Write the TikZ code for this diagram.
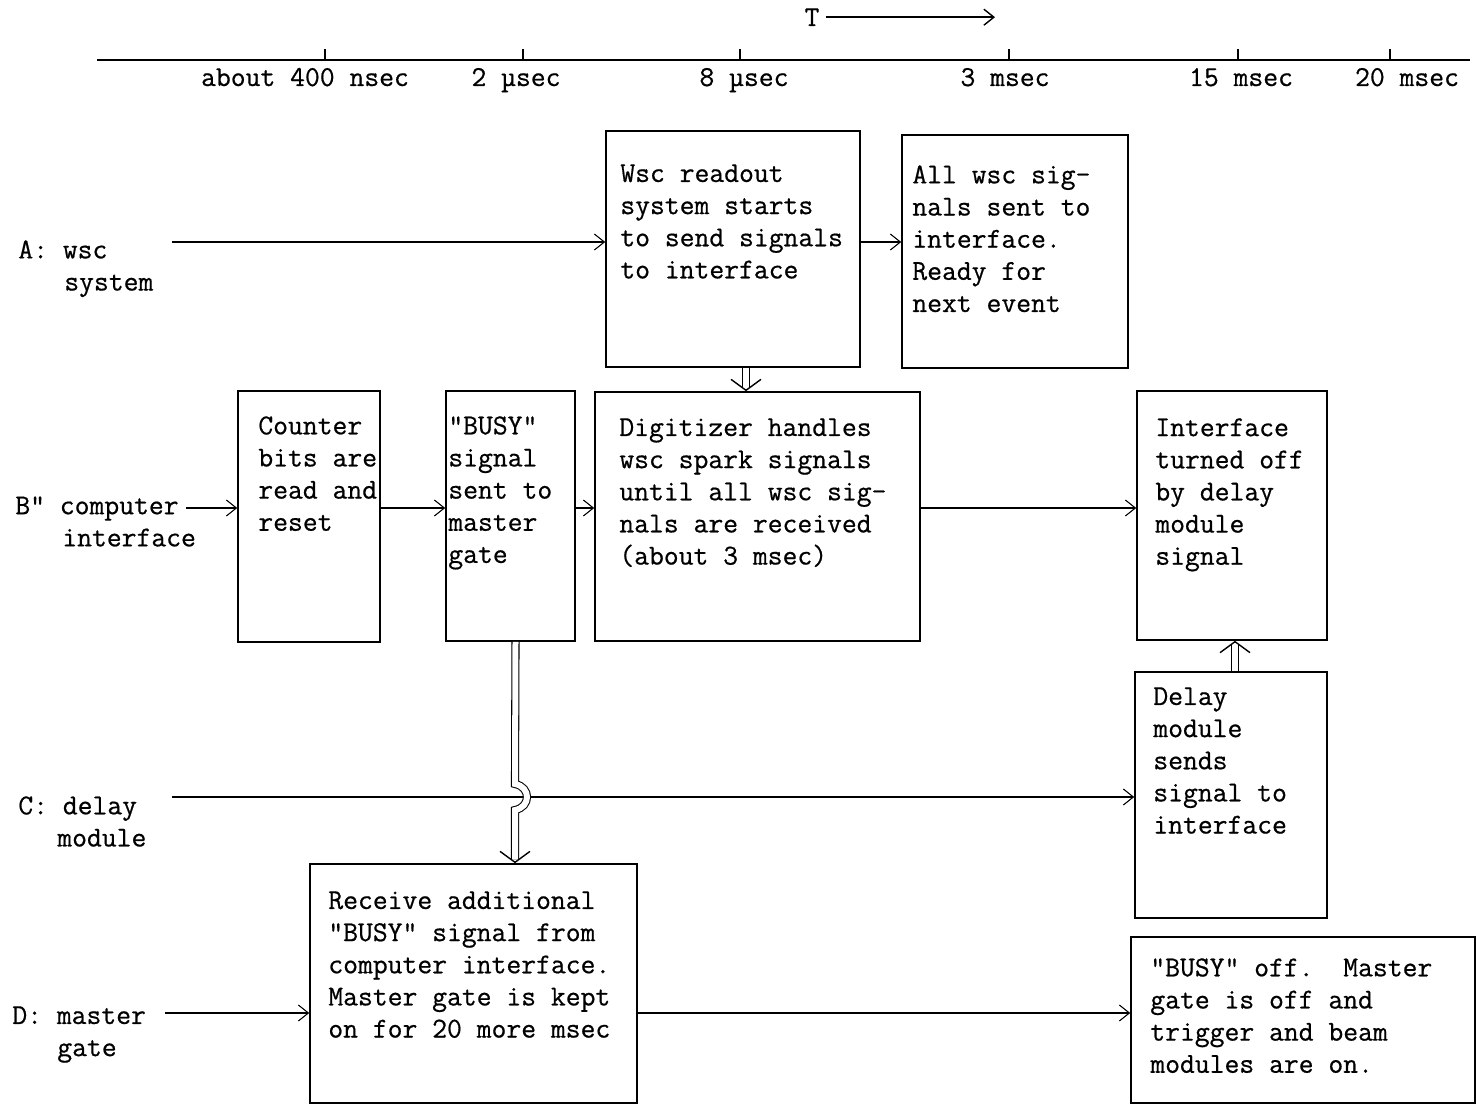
\documentclass[tikz,border=0pt]{standalone}
\usepackage{fontspec}
\usepackage{tikz}
\usetikzlibrary{arrows.meta,fit}
\newfontfamily\typefont{Latin Modern Mono}[FakeBold=0.6]
\newcommand{\typed}{\typefont\fontsize{16.4}{18.3}\selectfont}

\tikzset{
  box/.style={draw, line width=0.9pt, inner sep=0pt},
  txt/.style={anchor=north west, align=left, inner sep=0pt},
  sig/.style={line width=0.6pt, -{Straight Barb[length=2mm,width=3.2mm]}},
  dbl/.style={line width=0.6pt, double, double distance=1.2mm, shorten >=0.7mm},
  dbl head/.style={line width=0.8pt, -{Straight Barb[length=2.2mm,width=6mm]}},
}

\begin{document}
\begin{tikzpicture}[x=0.02cm, y=-0.02cm, font=\typed]
    \useasboundingbox (0,0) rectangle (1476,1105);

    % time axis
    \node (T) [anchor=base] at (812,26) {T};
    \coordinate (tend) at (995,18);
    \draw[sig, line width=0.8pt] (T.east) -- (T.east -| tend);
    \draw[line width=0.9pt] (97,60) -- (1470,60);
    \foreach \x/\lx/\t [count=\i] in {325/305/about 400 nsec, 523/516/2 µsec, 740/744/8 µsec,
        1009/1005/3 msec, 1238/1241/15 msec, 1390/1407/20 msec} {
      \draw[line width=0.8pt] (\x,60) -- (\x,49);
      \node (t\i) [anchor=base] at (\lx,86) {\t};
    }

    % rows
    \node[txt] (A) at (18,240) {A: wsc\\\hspace*{0.92cm}system};
    \node[txt] (B) at (15,496) {B" computer\\\hspace*{0.94cm}interface};
    \node[txt] (C) at (18,796) {C: delay\\\hspace*{0.78cm}module};
    \node[txt] (D) at (12,1006) {D: master\\\hspace*{0.9cm}gate};

    % boxes
    \node[box, fit={(606,131) (860,367)}] (wsc) {};
    \node[txt] (wsc txt) at (620,164) {Wsc readout\\system starts\\to send signals\\to interface};
    \node[box, fit={(902,135) (1128,368)}] (ready) {};
    \node[txt] (ready txt) at (912,165) {All wsc sig-\\nals sent to\\interface.\\Ready for\\next event};

    \node[box, fit={(238,391) (380,642)}] (counter) {};
    \node[txt] (counter txt) at (258,416) {Counter\\bits are\\read and\\reset};
    \node[box, fit={(446,391) (575,641)}] (busy) {};
    \node[txt] (busy txt) at (448,416) {"BUSY"\\signal\\sent to\\master\\gate};
    \node[box, fit={(595,392) (920,641)}] (dig) {};
    \node[txt] (dig txt) at (619,418) {Digitizer handles\\wsc spark signals\\until all wsc sig-\\nals are received\\(about 3 msec)};
    \node[box, fit={(1137,391) (1327,640)}] (iface) {};
    \node[txt] (iface txt) at (1155,418) {Interface\\turned off\\by delay\\module\\signal};

    \node[box, fit={(1135,672) (1327,918)}] (delay) {};
    \node[txt] (delay txt) at (1153,687) {Delay\\module\\sends\\signal to\\interface};

    \node[box, fit={(310,864) (637,1103)}] (recv) {};
    \node[txt] (recv txt) at (328,891) {Receive additional\\"BUSY" signal from\\computer interface.\\Master gate is kept\\on for 20 more msec};
    \node[box, fit={(1131,937) (1475,1103)}] (off) {};
    \node[txt] (off txt) at (1150,958) {"BUSY" off.\ \ Master\\gate is off and\\trigger and beam\\modules are on.};

    % signal lines
    \coordinate (a in) at (172,242);
    \coordinate (b in) at (186,508);
    \coordinate (c in) at (172,797);
    \coordinate (d in) at (165,1013);

    \draw[sig] (a in) -- (a in -| wsc.west);
    \draw[sig] (a in -| wsc.east) -- (a in -| ready.west);
    \draw[sig] (b in) -- (b in -| counter.west);
    \draw[sig] (b in -| counter.east) -- (b in -| busy.west);
    \draw[sig] (b in -| busy.east) -- (b in -| dig.west);
    \draw[sig] (b in -| dig.east) -- (b in -| iface.west);
    \draw[sig] (c in) -- (c in -| delay.west);
    \draw[sig] (d in) -- (d in -| recv.west);
    \draw[sig] (d in -| recv.east) -- (d in -| off.west);

    % double lines
    \draw[dbl] ([xshift=0.26cm]wsc.south) -- ([xshift=0.26cm]wsc.south |- dig.north);
    \draw[dbl head] ([xshift=0.26cm, yshift=1pt]wsc.south |- dig.north) -- ([xshift=0.26cm]wsc.south |- dig.north);
    \draw[dbl] ([xshift=0.1cm]busy.south) -- (515,784)
        .. controls (531,787) and (531,807) .. (515,810) -- (515,0 |- recv.north);
    \draw[dbl head] ([yshift=1pt]515,0 |- recv.north) -- (515,0 |- recv.north);
    \draw[dbl] ([xshift=0.08cm]delay.north) -- ([xshift=0.08cm]delay.north |- iface.south);
    \draw[dbl head] ([xshift=0.08cm, yshift=-1pt]delay.north |- iface.south) -- ([xshift=0.08cm]delay.north |- iface.south);
\end{tikzpicture}
\end{document}
